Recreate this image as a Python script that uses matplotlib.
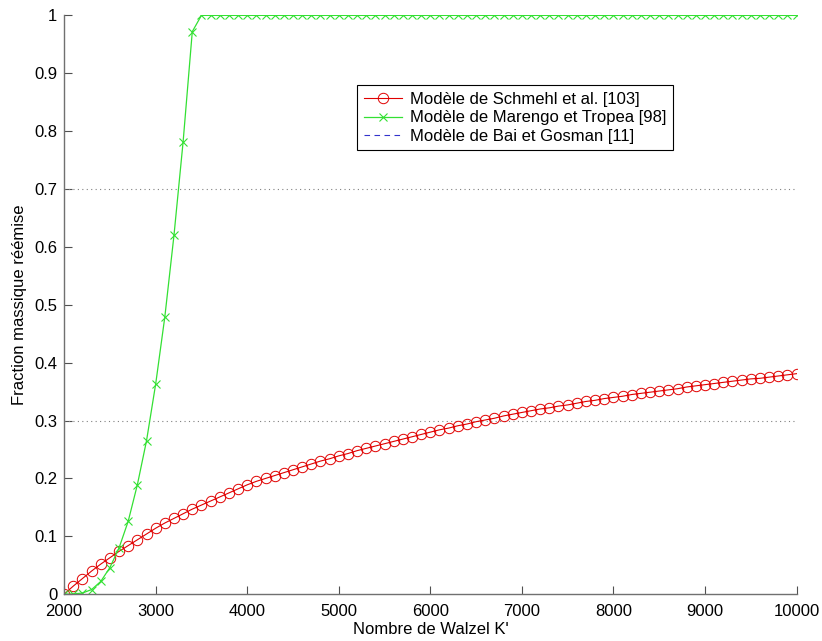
import matplotlib
matplotlib.use('Agg')
import matplotlib.pyplot as plt
import numpy as np

plt.rcParams['font.family'] = ['Liberation Sans', 'DejaVu Sans']

# Nombre de Walzel K' (pas de 100)
k_walzel = list(range(2000, 10001, 100))

# Modèle de Schmehl et al. [103]
schmehl = [
    0.000, 0.014, 0.027, 0.040, 0.052, 0.063, 0.074, 0.084, 0.094, 0.104,
    0.114, 0.123, 0.131, 0.139, 0.147, 0.154, 0.161, 0.168, 0.175, 0.182,
    0.189, 0.195, 0.200, 0.205, 0.210, 0.215, 0.220, 0.225, 0.230, 0.234,
    0.239, 0.243, 0.248, 0.252, 0.256, 0.260, 0.264, 0.268, 0.272, 0.276,
    0.280, 0.284, 0.287, 0.291, 0.294, 0.298, 0.301, 0.304, 0.308, 0.311,
    0.314, 0.317, 0.320, 0.322, 0.325, 0.327, 0.330, 0.333, 0.335, 0.338,
    0.340, 0.342, 0.345, 0.347, 0.349, 0.351, 0.353, 0.355, 0.358, 0.360,
    0.362, 0.364, 0.366, 0.368, 0.370, 0.372, 0.373, 0.375, 0.377, 0.379,
    0.381,
]

# Modèle de Marengo et Tropea [98] (vaut 1 à partir de K' = 3500)
marengo = [
    0.000, 0.0005, 0.002, 0.008, 0.022, 0.046, 0.080, 0.126, 0.189, 0.265,
    0.363, 0.479, 0.620, 0.782, 0.972,
] + [1.0] * 66

# Modèle de Bai et Gosman [11] : aucune courbe visible sur la figure
bai_x = []
bai_y = []

# niveaux des lignes pointillées
niveaux = [0.3, 0.7]

fig = plt.figure(figsize=(8.22, 6.41), dpi=100)
ax = fig.add_axes([0.078, 0.073, 0.891, 0.903])

for y in niveaux:
    ax.plot([2000, 10000], [y, y], linestyle=(0, (1, 3)), color='#808080', linewidth=0.8)

ax.plot(k_walzel, schmehl, '-o', color='#e00000', linewidth=0.8,
        markersize=7.5, markerfacecolor='none', markeredgewidth=0.7,
        label='Modèle de Schmehl et al. [103]')
ax.plot(k_walzel, marengo, '-x', color='#33e033', linewidth=0.9,
        markersize=5.5, markeredgewidth=0.8,
        label='Modèle de Marengo et Tropea [98]')
ax.plot(bai_x, bai_y, linestyle=(0, (5, 4)), color='#3333cc', linewidth=0.8,
        label='Modèle de Bai et Gosman [11]')

ax.set_xlim(2000, 10000)
ax.set_ylim(0, 1)
ax.set_xticks(range(2000, 10001, 1000))
ax.set_yticks(np.arange(0, 1.01, 0.1))
ax.set_yticklabels(['0', '0.1', '0.2', '0.3', '0.4', '0.5', '0.6', '0.7', '0.8', '0.9', '1'])

for s in ['top', 'right']:
    ax.spines[s].set_visible(False)
for s in ['left', 'bottom']:
    ax.spines[s].set_color('#707070')
    ax.spines[s].set_linewidth(1.0)
ax.tick_params(direction='in', length=6, width=0.8, color='#505050', labelsize=12)
ax.tick_params(axis='x', pad=7)
ax.tick_params(axis='y', pad=5)

ax.set_xlabel("Nombre de Walzel K'", fontsize=12, labelpad=2)
ax.set_ylabel('Fraction massique réémise', fontsize=12, labelpad=5)

leg = ax.legend(loc='upper left', bbox_to_anchor=(0.40, 0.879), borderaxespad=0,
                fontsize=12, labelspacing=0.2, handlelength=2.3, handletextpad=0.45,
                borderpad=0.4, fancybox=False, framealpha=1)
leg.get_frame().set_edgecolor('black')
leg.get_frame().set_linewidth(0.8)

fig.savefig('out.png', dpi=100)
